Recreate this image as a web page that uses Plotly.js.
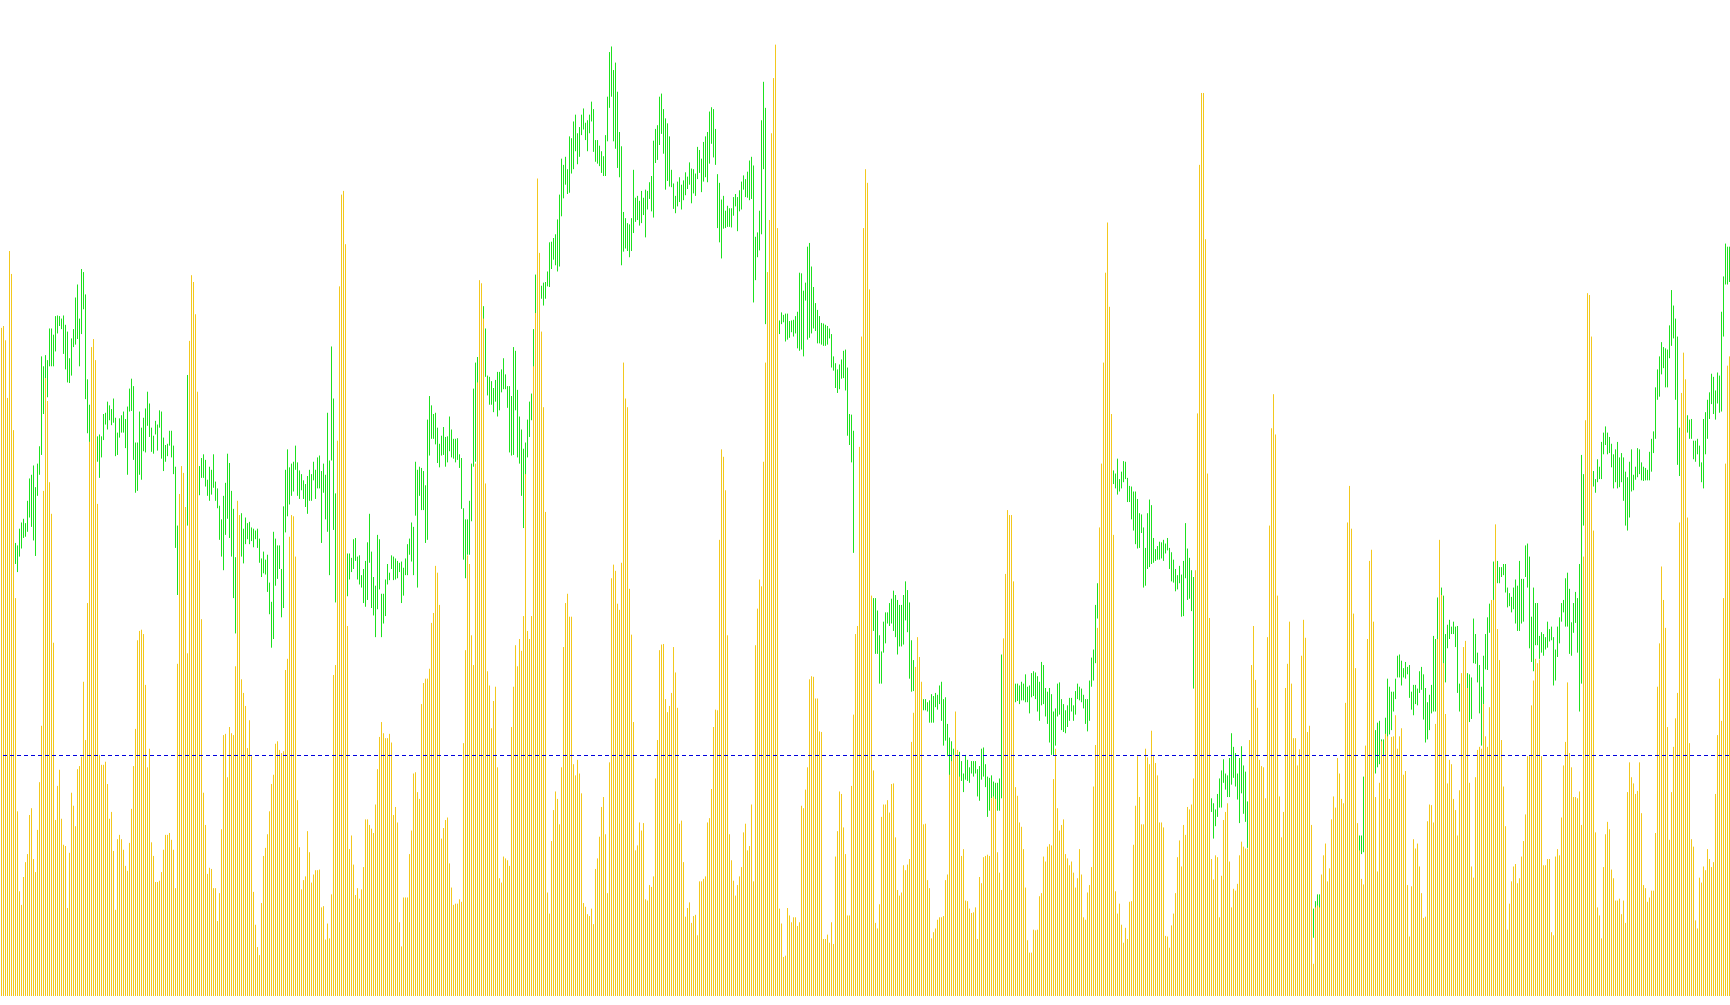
<!DOCTYPE html>
<html><head><meta charset="utf-8">
<script src="https://cdn.plot.ly/plotly-3.0.1.min.js"></script>
<style>html,body{margin:0;padding:0;background:#fff;overflow:hidden}#chart{width:1730px;height:1005px}
.shapelayer path{shape-rendering:crispEdges}</style>
</head><body><div id="chart"></div>
<script>
// Volume histogram (yellow), one value per bar
const volume = [
1078,1081,1058,965,1202,1165,913,642,298,169,147,192,216,229,292,303,221,200,268,345,
436,815,997,960,829,778,570,284,339,365,286,244,242,142,231,328,307,274,366,371,
386,507,413,634,894,1047,1060,1026,794,389,373,373,378,342,286,297,234,139,253,260,
253,236,210,202,247,302,371,431,574,589,591,584,502,369,399,248,226,184,184,186,
200,236,260,260,263,252,236,174,536,810,855,844,789,553,1057,1163,1152,1100,975,703,
608,328,276,197,207,205,174,174,121,166,269,421,423,353,434,424,421,532,799,776,
511,489,468,400,445,387,168,115,79,66,150,226,239,261,298,342,357,407,411,397,
392,395,526,544,741,
776,774,709,316,240,172,187,193,266,232,183,196,203,203,204,143,145,91,117,93,
164,518,534,896,1145,1293,1299,1213,597,237,259,212,163,174,157,172,208,285,285,276,
270,263,309,366,418,442,424,416,416,423,409,292,305,280,119,80,159,159,159,229,
267,359,361,329,318,471,505,512,512,528,602,618,694,683,631,254,271,284,288,214,
175,147,149,149,156,152,408,558,711,697,582,534,859,990,1155,1150,1093,827,524,501,
432,476,499,369,190,183,225,222,219,210,434,499,566,532,576,557,613,842,589,576,
613,1016,1102,1319,1199,1072,950,781,167,133,250,300,330,318,277,369,563,634,649,612,
612,374,356,381,359,
327,150,144,132,129,141,116,205,222,257,305,321,261,166,377,674,696,686,633,623,
699,1022,964,950,657,583,442,235,243,280,267,279,156,154,179,176,193,351,413,558,
567,568,479,458,468,489,563,522,465,278,283,216,128,142,151,118,129,131,98,185,
185,189,193,280,287,334,434,462,461,736,882,870,816,582,261,219,186,162,179,193,
208,264,278,235,242,309,185,566,625,672,661,862,1022,1168,1252,1392,1481,1535,1239,141,
117,63,65,142,130,119,127,127,113,119,307,303,333,369,511,516,515,480,480,427,
426,92,92,99,86,119,84,225,266,330,326,272,229,130,130,339,454,584,597,886,
1064,1239,1334,1312,1140,
646,364,118,109,148,289,309,309,316,296,342,343,256,171,162,167,211,203,212,221,
410,457,531,579,547,507,277,278,187,174,93,103,109,123,127,127,129,187,196,357,
379,389,459,397,354,226,237,154,153,141,134,135,143,92,192,182,224,226,228,226,
319,322,318,232,199,171,577,681,784,776,776,669,337,323,280,273,237,175,90,70,
70,107,106,107,161,166,225,217,241,245,243,350,399,303,267,276,285,229,222,211,
217,199,175,190,237,196,127,123,167,179,208,338,405,594,756,859,1022,1167,1248,1112,
939,744,169,133,149,115,86,110,92,152,153,244,307,387,321,277,277,399,385,374,
428,387,376,356,280,
280,272,97,96,78,114,133,166,224,251,209,276,260,305,301,309,351,687,940,1341,
1457,1457,1221,843,610,221,188,227,224,127,194,284,297,311,217,143,173,170,181,227,
249,241,238,238,413,534,597,510,465,381,371,369,319,579,759,916,971,906,646,322,
256,297,497,536,604,504,416,416,372,398,549,607,578,426,436,276,52,143,146,143,
196,227,246,185,206,285,322,304,384,359,318,311,473,764,823,754,617,529,279,235,
189,180,404,576,702,720,604,321,201,344,411,389,423,419,318,418,419,453,399,419,
432,357,363,179,96,177,253,238,246,209,166,126,128,282,309,308,280,439,576,736,
647,537,455,343,381,
374,318,300,259,332,521,563,573,497,344,209,191,353,397,402,399,471,419,402,466,
639,639,761,592,542,413,338,274,107,149,185,209,213,182,190,225,250,293,387,387,
469,509,544,537,543,387,211,211,221,221,103,98,225,237,227,288,372,410,506,392,
369,321,321,319,330,276,709,929,1134,1131,1064,751,264,143,130,93,208,261,281,269,
204,190,154,154,157,132,154,118,329,377,353,343,326,331,377,295,179,174,152,159,
170,170,263,499,569,693,639,594,434,252,329,402,448,489,764,973,1038,995,772,408,
253,241,122,109,191,183,209,203,237,221,208,216,326,421,512,444,642,859,1017,1032
];

// Price bars (green): high of each bar
const priceHigh = [
699,709,689,719,739,729,739,731,727,754,764,770,763,799,835,841,856,821,859,887,
1032,1016,1034,1026,1077,1077,1067,1097,1098,1097,1093,1098,1083,1072,1029,1061,1076,1127,1148,1093,
1173,1168,1132,995,954,939,919,909,903,906,903,939,941,959,953,947,964,933,909,932,
937,943,931,951,980,996,984,893,893,943,917,933,948,975,956,917,904,928,922,945,
943,901,889,891,912,912,888,854,759,790,840,830,780,1002,939,919,909,879,869,855,
868,874,865,833,854,849,874,830,819,791,769,807,828,875,860,815,786,708,739,769,
779,754,772,763,765,756,754,751,754,738,706,717,704,712,667,636,749,738,727,727,
689,790,849,882,853,
859,862,888,861,848,842,832,826,839,849,842,862,849,869,872,847,859,841,941,864,
1048,964,811,759,739,729,719,714,714,714,707,737,739,709,711,679,689,702,732,778,
717,676,662,744,737,649,649,672,697,683,711,709,706,702,699,701,691,706,729,738,
764,757,862,849,854,852,847,824,930,968,953,939,941,917,891,904,918,902,903,935,
914,899,899,900,874,868,787,769,769,799,859,980,1022,1031,1079,1099,1113,1077,1001,999,
992,981,994,1007,1007,1011,1029,1003,984,984,968,1047,1041,978,935,914,883,893,930,959,
972,1076,1164,1153,1144,1146,1151,1152,1169,1216,1217,1223,1229,1253,1293,1351,1341,1354,1334,1387,
1384,1411,1422,1392,1402,
1422,1432,1409,1413,1422,1443,1431,1381,1381,1372,1363,1355,1389,1451,1523,1532,1494,1506,1459,1394,
1371,1265,1255,1247,1245,1255,1333,1288,1291,1283,1299,1288,1301,1299,1313,1323,1380,1399,1405,1451,
1456,1431,1416,1408,1387,1333,1311,1291,1314,1321,1309,1316,1329,1322,1345,1335,1334,1327,1370,1365,
1351,1378,1387,1394,1427,1434,1431,1399,1326,1312,1285,1291,1267,1275,1271,1271,1289,1294,1289,1300,
1314,1324,1318,1330,1348,1354,1340,1225,1232,1267,1413,1475,1433,1159,1139,1129,1119,1109,1099,1090,
1103,1099,1101,1101,1089,1090,1091,1097,1104,1167,1166,1138,1151,1209,1215,1177,1144,1118,1107,1097,
1086,1085,1083,1081,1077,1068,1032,1021,1011,1019,1027,1041,1043,1014,939,938,912,580,595,709,
689,679,659,659,654,
644,642,642,622,582,556,604,619,619,634,641,654,647,639,631,631,647,669,655,635,
574,542,519,509,499,489,479,479,474,477,487,484,489,486,501,507,479,482,439,417,
411,399,389,394,394,379,359,389,381,369,379,379,379,366,371,399,401,374,354,352,
356,346,344,344,351,551,559,559,569,559,549,529,504,504,501,507,504,519,499,501,
521,524,522,516,507,539,534,497,491,497,487,459,464,504,506,479,471,461,469,481,
481,469,492,504,499,496,486,479,479,509,546,559,631,666,709,832,859,879,879,869,
859,848,843,867,834,846,863,862,836,823,822,814,814,802,779,777,756,723,779,801,
792,739,721,726,733,
732,736,730,739,723,716,704,689,679,694,680,702,763,722,707,687,676,559,509,479,
459,439,409,379,359,319,311,301,326,351,364,382,359,356,384,424,402,392,359,384,
403,372,362,314,309,289,279,299,309,319,299,289,279,279,259,239,219,209,199,189,
179,169,159,149,159,154,159,149,139,149,144,139,139,134,139,139,141,153,164,164,
179,180,190,180,195,210,220,230,240,250,260,270,280,290,300,290,280,270,265,259,
259,354,380,400,420,430,420,429,441,444,414,414,449,512,499,491,491,512,549,551,
541,529,539,531,534,491,502,502,496,524,531,519,497,474,486,502,581,576,643,659,
659,646,584,599,607,
596,604,596,597,504,519,519,519,521,519,514,609,584,554,534,499,549,584,611,633,
621,701,702,702,692,692,697,697,659,650,644,659,672,662,702,673,673,727,730,709,
612,659,634,634,581,587,584,579,604,592,596,579,559,596,611,634,639,674,683,657,
603,634,652,642,697,873,842,859,859,849,854,847,834,866,854,894,909,919,909,902,
891,874,882,894,869,876,869,846,837,862,882,841,854,884,882,861,854,852,849,878,
899,911,982,1011,1032,1055,1047,1045,1043,1082,1139,1114,1093,1064,917,924,925,929,937,930,
931,896,896,899,888,861,931,942,962,974,1004,999,977,1006,1001,1104,1161,1214,1209,1209
];

// Price bars (green): low of each bar
const priceLow = [
629,649,629,659,679,689,689,697,684,709,722,739,741,749,772,757,735,710,807,841,
873,939,997,966,1016,1016,1016,1040,1069,1081,1076,1036,1011,990,989,1001,1047,1051,1060,1016,
1068,1108,963,908,894,869,859,849,862,836,869,897,922,914,929,921,925,871,873,901,
909,909,884,841,943,944,865,812,815,841,833,879,877,920,902,878,875,906,880,917,
867,847,862,871,888,869,842,723,647,700,760,770,730,759,859,849,839,819,814,808,
836,836,822,807,799,809,820,799,787,736,709,687,744,770,739,709,642,585,669,699,
709,698,729,737,729,734,724,737,723,699,676,682,680,652,616,562,576,662,673,689,
611,626,748,774,793,
807,814,849,807,802,816,802,789,778,799,799,832,802,819,819,731,812,769,749,679,
864,752,635,679,659,659,649,654,645,672,684,689,702,672,664,659,634,628,639,699,
626,614,579,624,656,579,601,613,664,671,689,671,672,674,684,634,646,679,679,712,
701,679,775,659,807,784,784,731,736,872,899,899,890,860,853,872,873,854,861,879,
869,867,861,865,852,786,704,674,712,712,766,854,862,989,1019,1039,1044,999,969,954,
954,942,959,935,945,974,979,979,949,877,872,873,945,869,859,807,755,823,869,902,
929,702,1047,1122,1123,1125,1114,1125,1145,1144,1173,1188,1179,1169,1177,1258,1287,1309,1294,1296,
1327,1334,1363,1342,1354,
1389,1398,1381,1363,1392,1411,1362,1346,1343,1339,1328,1323,1323,1379,1433,1451,1379,1367,1336,1321,
1179,1201,1206,1202,1192,1202,1231,1249,1252,1243,1247,1260,1224,1269,1286,1266,1256,1344,1349,1373,
1391,1359,1301,1315,1306,1305,1270,1263,1274,1281,1269,1284,1292,1302,1309,1279,1295,1291,1318,1328,
1297,1314,1321,1313,1343,1375,1353,1341,1239,1216,1190,1238,1239,1241,1241,1240,1259,1274,1234,1266,
1269,1301,1289,1288,1284,1286,1119,1155,1192,1203,1229,1334,1084,1089,1079,1069,1079,1069,1059,1068,
1084,1087,1056,1059,1062,1071,1064,1069,1045,1041,1043,1032,1122,1059,1062,1069,1077,1073,1053,1053,
1051,1049,1049,1051,1061,1014,1009,981,973,979,996,997,977,904,889,861,715,545,560,609,
599,579,569,559,569,
569,589,552,552,504,504,554,569,601,597,601,589,579,551,564,564,567,606,587,512,
491,492,479,469,459,459,461,461,459,441,441,441,466,462,471,444,404,412,387,351,
369,359,349,339,329,347,329,349,347,344,359,354,359,322,315,349,354,337,289,299,
319,299,294,299,299,319,499,479,489,479,474,469,474,476,471,477,477,474,474,456,
482,484,479,459,444,469,471,451,439,409,389,389,404,451,454,429,426,424,434,444,
459,444,454,479,477,474,464,439,427,444,499,509,537,609,619,739,769,799,809,819,
824,826,819,809,814,819,829,834,797,797,769,751,729,722,723,747,659,662,689,692,
697,699,702,704,704,
706,702,714,719,689,669,667,653,656,666,612,613,674,639,641,621,496,479,439,409,
389,369,349,329,309,297,254,274,289,304,304,344,333,321,321,341,352,338,317,279,
327,294,281,239,239,229,219,239,249,259,239,229,229,219,199,179,159,149,139,139,
129,119,114,109,109,104,109,104,99,104,99,94,99,94,99,94,94,139,141,141,
149,140,150,150,160,170,180,190,200,210,220,230,240,240,250,250,240,230,225,211,
229,232,340,350,360,370,370,359,369,374,346,387,419,389,422,429,459,479,514,514,
501,514,512,519,481,462,453,471,469,489,494,446,409,414,429,456,459,459,511,559,
569,536,506,561,576,
584,584,563,489,459,479,444,447,441,442,447,537,536,506,456,404,471,527,526,586,
574,639,666,666,666,676,679,651,627,629,619,624,601,589,589,601,604,676,659,561,
539,524,566,566,544,554,549,559,562,572,574,501,509,547,569,604,619,596,596,552,
549,586,602,554,459,504,759,779,789,789,799,822,812,829,834,834,874,889,874,876,
853,819,829,819,821,829,799,759,751,772,814,816,833,837,842,832,831,832,832,832,
846,876,899,962,967,1003,1013,982,982,1029,1049,1061,962,857,839,899,909,899,909,899,
899,866,862,874,854,829,819,874,899,931,955,939,930,956,941,943,1064,1148,1148,1152
];

// Average volume level (blue dotted line)
const avgLevel = 388;

const n = volume.length;

// Each bar becomes a vertical 1px segment: [x, x, gap]
function segments(bottoms, tops) {
  const xs = [], ys = [];
  for (let i = 0; i < n; i++) {
    xs.push(i, i, null);
    ys.push(bottoms[i], tops[i], null);
  }
  return {xs, ys};
}
const priceSeg = segments(priceLow, priceHigh);
const volSeg = segments(volume.map(() => 0), volume);

const traces = [
  {
    type: 'scatter', mode: 'lines', x: priceSeg.xs, y: priceSeg.ys,
    line: {color: '#1ee01e', width: 1, simplify: false}, connectgaps: false, hoverinfo: 'skip'
  },
  {
    type: 'scatter', mode: 'lines', x: volSeg.xs, y: volSeg.ys,
    line: {color: '#f3c81e', width: 1, simplify: false}, connectgaps: false, hoverinfo: 'skip'
  }
];

const layout = {
  width: 1730, height: 1005,
  margin: {l: 0, r: 0, t: 0, b: 0, pad: 0},
  paper_bgcolor: '#ffffff', plot_bgcolor: '#ffffff',
  showlegend: false,
  xaxis: {range: [-0.75, n - 0.75], visible: false, showgrid: false, zeroline: false, fixedrange: true},
  yaxis: {range: [-14.5, 1607], visible: false, showgrid: false, zeroline: false, fixedrange: true},
  shapes: [{
    type: 'line', xref: 'paper', x0: 0.002, x1: 1, yref: 'y', y0: avgLevel, y1: avgLevel,
    line: {color: '#0000dd', width: 1, dash: '4px,3px'}, layer: 'above'
  }]
};

Plotly.newPlot('chart', traces, layout, {displayModeBar: false, staticPlot: true});
</script>
</body></html>
